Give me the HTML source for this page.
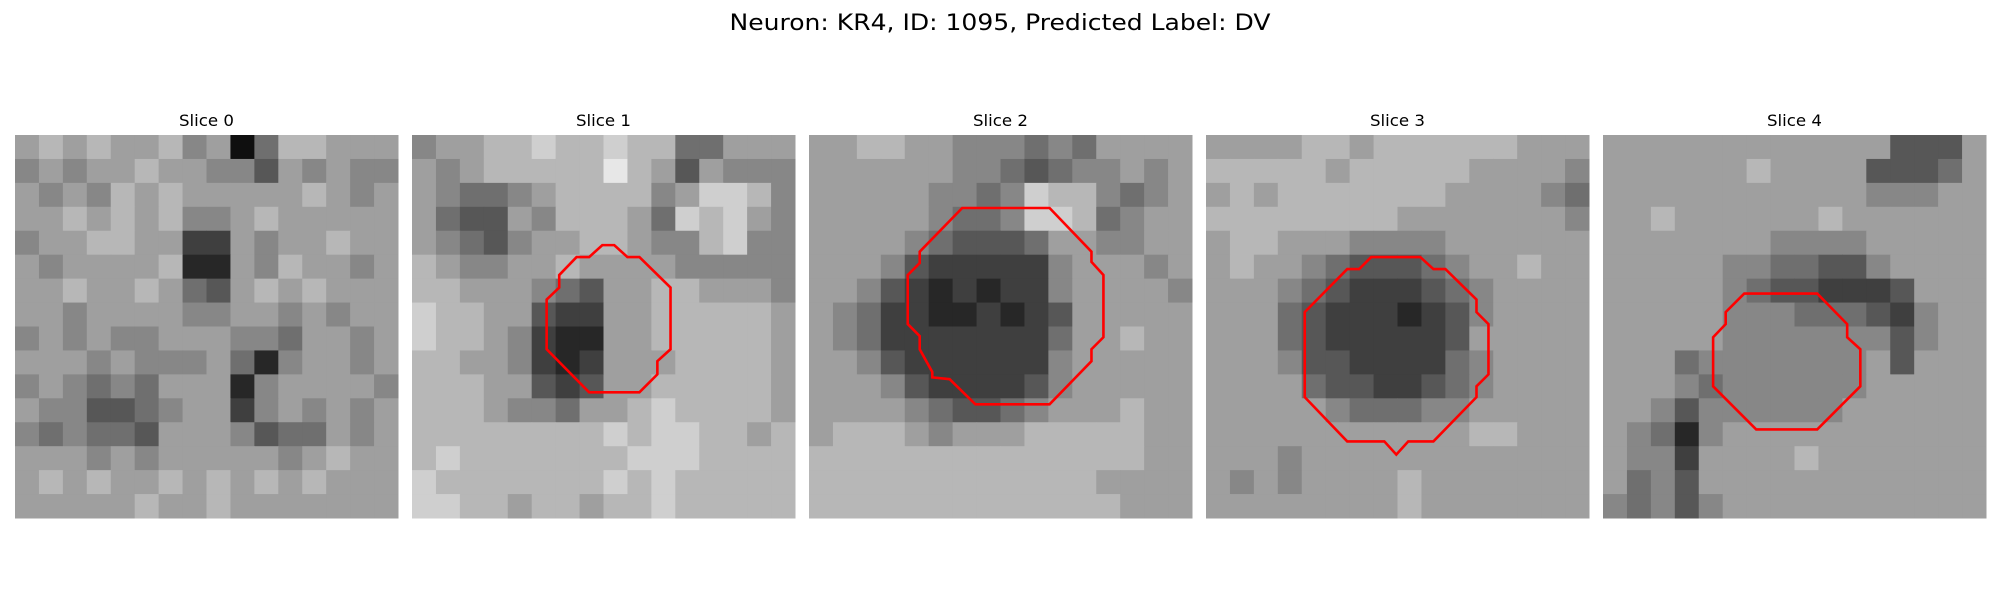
<!DOCTYPE html>
<html><head><meta charset="utf-8"><style>
html,body{margin:0;padding:0;background:#fff;width:2000px;height:600px;overflow:hidden}
svg{display:block}
text{font-family:"DejaVu Sans","Liberation Sans",sans-serif;fill:#000}
</style></head><body>
<svg id="fig" width="2000" height="600" viewBox="0 0 2000 600">
<text x="1000" y="30" font-size="22" text-anchor="middle" textLength="541" lengthAdjust="spacingAndGlyphs">Neuron: KR4, ID: 1095, Predicted Label: DV</text>
</svg>
<script>
const sliceTitles=["Slice 0","Slice 1","Slice 2","Slice 3","Slice 4"];
const slice0=["6767667560477666","5656676655365655","6565767666667656","6676767556766666","5667766226566766","6566667116576656","6676676436767666","6656666556656566","5656556665546656","6665655564156656","5654546661566665","6553345662565656","5454436665344656","6665656666656766","6767667676767666","6666676676666666"];
const slice1=["5667787787744666","6567777797636555","6544567777568875","6433657776487865","6543566776557855","7655667666655555","7766654366776665","8776632266777776","8776521166777776","7766521266677776","7776632366777776","7776554667877776","7777777787887767","7877777778887777","8777777787877777","8877677677877777"];
const slice2=["6677665554546666","6666665543455656","6666655458775456","6666654458874566","6666543334665566","6665322222566656","6653212122566665","6542211212366666","6542222222466766","6653222222566666","6665322223566666","6666543345666766","6777656667777766","7777777777777766","7777777777776666","7777777777777666"];
const slice3=["6666776777777666","7777767777766665","6767777777666654","7777777766666665","6776665555666666","6766543334566766","6665432223456666","6664322212356666","6664322222366666","6665332222456666","6666433223456666","6666654445566666","6666666666677666","6665666666666666","6565666676666666","6666666676666666"];
const slice4=["6666666666663336","6666667666633346","6666666666655566","6676666667666666","6666666555566666","6666655443356666","6666654332223666","6666655544432566","6666655555553566","6664555555563666","6665455555566666","6653555555666666","6541566666666666","6552666676666666","6453666666666666","5453566666666666"];
const contour0=[];
const contour1=[[15.9,9.2],[16.9,9.2],[18,10.2],[19,10.2],[21.6,12.75],[21.6,17.9],[20.5,18.9],[20.5,20],[19,21.5],[14.8,21.5],[11.25,17.9],[11.25,13.75],[12.3,12.75],[12.3,11.7],[13.75,10.2],[14.8,10.2]];
const contour2=[[12.8,6.1],[20.1,6.1],[23.6,9.75],[23.6,10.6],[24.6,11.7],[24.6,16.9],[23.6,17.9],[23.6,18.9],[20.1,22.5],[13.9,22.5],[11.75,20.4],[10.3,20.25],[10.3,19.8],[9.25,17.9],[9.25,16.8],[8.25,15.8],[8.25,11.7],[9.25,10.7],[9.25,9.75]];
const contour3=[[13.8,10.2],[17.9,10.2],[19,11.2],[20,11.2],[22.6,13.75],[22.6,14.8],[23.6,15.8],[23.6,20],[22.6,21],[22.6,21.9],[19,25.6],[16.9,25.6],[15.9,26.7],[14.9,25.6],[11.8,25.6],[8.25,21.9],[8.25,14.8],[11.8,11.2],[12.8,11.2]];
const contour4=[[11.8,13.25],[17.9,13.25],[20.4,15.8],[20.4,16.9],[21.5,17.9],[21.5,21],[17.9,24.6],[12.8,24.6],[9.2,21],[9.2,16.9],[10.25,15.8],[10.25,14.8]];

const slices=[slice0,slice1,slice2,slice3,slice4];
const contours=[contour0,contour1,contour2,contour3,contour4];
const NS="http://www.w3.org/2000/svg";
const svg=document.getElementById('fig');
const panelX0=15, panelStep=397, panelY0=135, panelSize=383, gridUnits=32;
function xScale(p,u){return panelX0+p*panelStep+u*panelSize/gridUnits;}
function yScale(u){return panelY0+u*panelSize/gridUnits;}
function gray(d){const v=Math.round(15+d*24);return `rgb(${v},${v},${v})`;}
slices.forEach((grid,p)=>{
  const g=document.createElementNS(NS,'g');
  
  
  svg.appendChild(g);
  const t=document.createElementNS(NS,'text');
  
  
  t.setAttribute('x',xScale(p,16));t.setAttribute('y',126);
  t.setAttribute('font-size','16');t.setAttribute('text-anchor','middle');
  t.setAttribute('textLength','55');t.setAttribute('lengthAdjust','spacingAndGlyphs');
  t.textContent=sliceTitles[p];g.appendChild(t);
  const n=grid.length, cu=gridUnits/n;
  grid.forEach((row,r)=>{
    for(let c=0;c<row.length;c++){
      const rc=document.createElementNS(NS,'rect');
      
      
      const x1=xScale(p,c*cu),x2=xScale(p,(c+1)*cu),y1=yScale(r*cu),y2=yScale((r+1)*cu);
      rc.setAttribute('x',x1);rc.setAttribute('y',y1);
      rc.setAttribute('width',x2-x1+0.5);rc.setAttribute('height',y2-y1+0.5);
      rc.setAttribute('fill',gray(+row[c]));
      g.appendChild(rc);
    }
  });
  const pts=contours[p];
  if(pts.length){
    const pl=document.createElementNS(NS,'polygon');
    
    
    pl.setAttribute('points',pts.map(q=>xScale(p,q[0])+','+yScale(q[1])).join(' '));
    pl.setAttribute('fill','none');pl.setAttribute('stroke','#ff0000');pl.setAttribute('stroke-width','2.6');
    g.appendChild(pl);
  }
});
</script>
</body></html>
